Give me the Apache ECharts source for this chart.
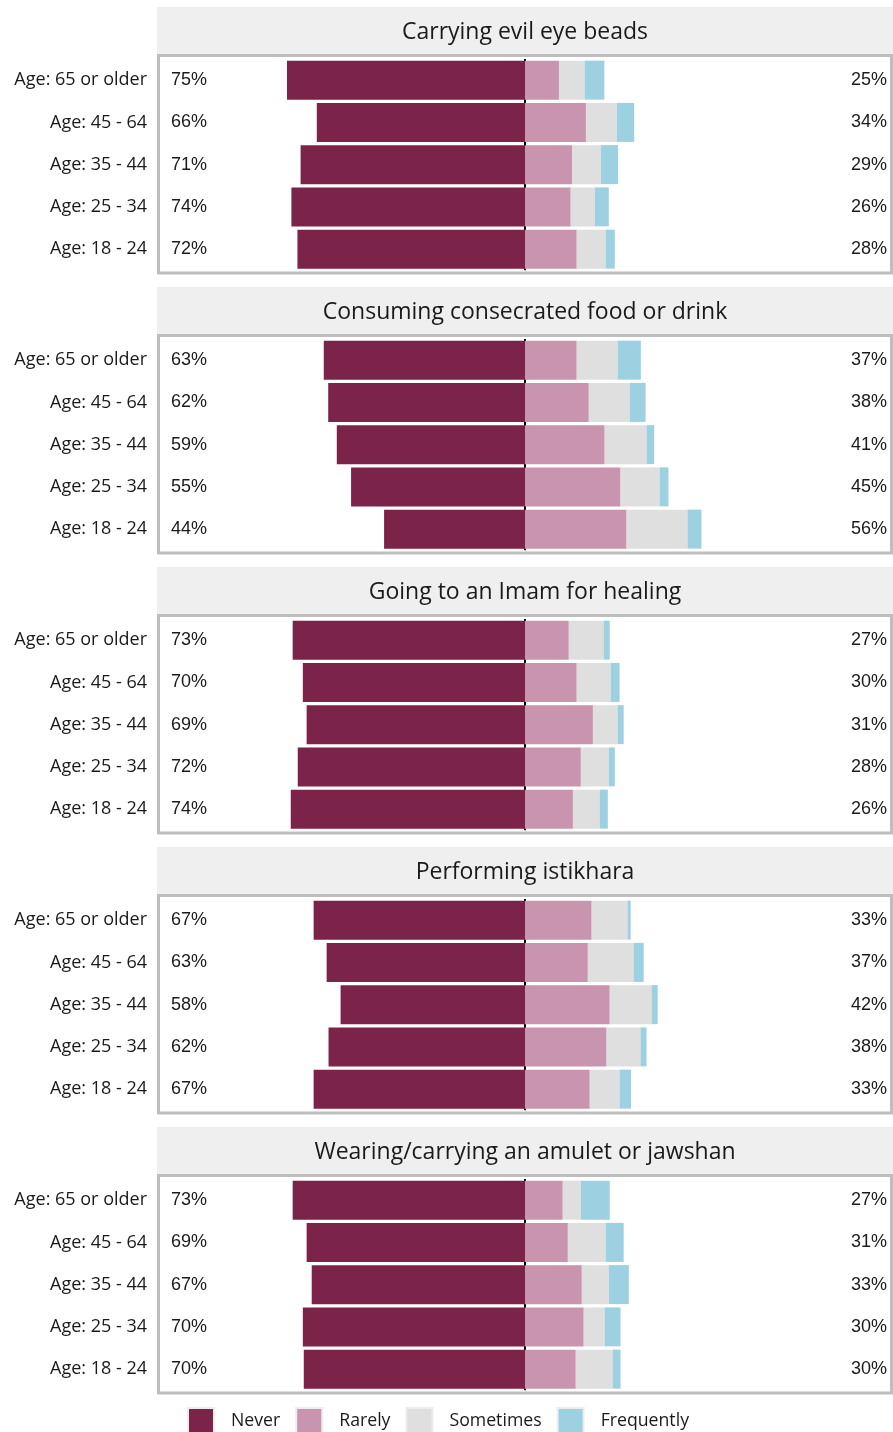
<!DOCTYPE html>
<html>
<head>
<meta charset="utf-8">
<script src="https://cdn.jsdelivr.net/npm/echarts@6/dist/echarts.min.js"></script>
<style>
html,body{margin:0;padding:0;background:#ffffff;}
#chart{width:893px;height:1432px;}
</style>
</head>
<body>
<div id="chart"></div>
<script>
// ---------- DATA ----------
const titles = [
  'Carrying evil eye beads',
  'Consuming consecrated food or drink',
  'Going to an Imam for healing',
  'Performing istikhara',
  'Wearing/carrying an amulet or jawshan'
];
const ageGroups = ['Age: 65 or older', 'Age: 45 - 64', 'Age: 35 - 44', 'Age: 25 - 34', 'Age: 18 - 24'];
const levels = ['Never', 'Rarely', 'Sometimes', 'Frequently'];

// one row per item (panel), one value per age group
const never = [
  [75.0, 65.6, 70.7, 73.6, 71.7],
  [63.4, 62.0, 59.3, 54.8, 44.4],
  [73.2, 70.0, 68.8, 71.6, 73.8],
  [66.6, 62.5, 58.1, 61.9, 66.6],
  [73.2, 68.8, 67.2, 70.0, 69.7]
];
const rarely = [
  [10.7, 19.2, 14.8, 14.4, 16.3],
  [16.3, 20.1, 25.1, 30.1, 32.0],
  [13.8, 16.3, 21.4, 17.6, 15.1],
  [21.0, 19.8, 26.7, 25.7, 20.4],
  [11.9, 13.5, 17.9, 18.5, 16.0]
];
const sometimes = [
  [8.1, 9.7, 9.1, 7.6, 9.1],
  [12.9, 12.9, 13.2, 12.3, 19.2],
  [11.0, 10.7, 7.8, 8.8, 8.4],
  [11.3, 14.4, 13.2, 10.7, 9.4],
  [5.7, 11.9, 8.5, 6.6, 11.6]
];
const frequently = [
  [6.2, 5.5, 5.4, 4.4, 2.9],
  [7.3, 5.0, 2.4, 2.8, 4.4],
  [1.9, 2.8, 1.9, 1.9, 2.6],
  [1.0, 3.2, 1.9, 1.9, 3.6],
  [9.1, 5.7, 6.3, 5.0, 2.5]
];
// printed percentages
const neverLabels = [
  ['75%', '66%', '71%', '74%', '72%'],
  ['63%', '62%', '59%', '55%', '44%'],
  ['73%', '70%', '69%', '72%', '74%'],
  ['67%', '63%', '58%', '62%', '67%'],
  ['73%', '69%', '67%', '70%', '70%']
];
const otherLabels = [
  ['25%', '34%', '29%', '26%', '28%'],
  ['37%', '38%', '41%', '45%', '56%'],
  ['27%', '30%', '31%', '28%', '26%'],
  ['33%', '37%', '42%', '38%', '33%'],
  ['27%', '31%', '33%', '30%', '30%']
];

// ---------- STYLE / LAYOUT ----------
const colors = ['#7b2349', '#c994ae', '#dfdfdf', '#9dd1e1'];
const PANEL_TOP0 = 55, PANEL_STEP = 280;
const GRID_LEFT = 160, GRID_RIGHT = 3;
const TEXT = '#1a1a1a';

const chart = echarts.init(document.getElementById('chart'), null, {renderer: 'canvas'});

const grids = [], xAxes = [], yAxes = [], series = [], graphics = [];
const levelData = [never, rarely, sometimes, frequently];

titles.forEach((t, i) => {
  const top = PANEL_TOP0 + PANEL_STEP * i;
  grids.push({left: GRID_LEFT, right: GRID_RIGHT, top: top + 4, height: 211.25, outerBoundsMode: 'none', containLabel: false});
  xAxes.push({
    gridIndex: i, type: 'value', min: -115, max: 115, interval: 115,
    axisLabel: {show: false}, axisTick: {show: false}, axisLine: {show: false},
    splitLine: {show: true, showMinLine: false, showMaxLine: false, lineStyle: {color: '#000000', width: 2}}
  });
  const yBase = yAxes.length;
  const common = {gridIndex: i, type: 'category', inverse: true, axisLine: {show: false}, axisTick: {show: false}, splitLine: {show: false}};
  yAxes.push(Object.assign({}, common, {
    data: ageGroups, position: 'left',
    axisLabel: {margin: 13, fontFamily: 'Open Sans', fontSize: 18, color: TEXT}
  }));
  yAxes.push(Object.assign({}, common, {
    data: neverLabels[i], position: 'left',
    axisLabel: {inside: true, margin: 11, fontFamily: 'Liberation Sans', fontSize: 18, color: TEXT}
  }));
  yAxes.push(Object.assign({}, common, {
    data: otherLabels[i], position: 'right',
    axisLabel: {inside: true, margin: 3, fontFamily: 'Liberation Sans', fontSize: 18, color: TEXT}
  }));
  levels.forEach((lv, k) => {
    const src = levelData[k][i];
    series.push({
      type: 'bar', name: lv, xAxisIndex: i, yAxisIndex: yBase, stack: 'panel' + i,
      barWidth: 39, silent: true,
      data: k === 0 ? src.map(v => -v) : src.slice(),
      itemStyle: {color: colors[k]}
    });
  });
  // strip
  graphics.push({type: 'rect', z: 1, shape: {x: 157, y: top - 48, width: 736, height: 47}, style: {fill: '#efefef'}});
  graphics.push({type: 'text', z: 2, x: 525, y: top - 23, style: {text: t, align: 'center', verticalAlign: 'middle', font: '23px "Open Sans"', fill: TEXT}});
  // panel border
  graphics.push({type: 'rect', z: 5, shape: {x: 158.5, y: top + 0.5, width: 733, height: 217.5}, style: {fill: null, stroke: '#bebebe', lineWidth: 3}});
});

const option = {
  animation: false,
  backgroundColor: '#ffffff',
  grid: grids,
  xAxis: xAxes,
  yAxis: yAxes,
  series: series,
  graphic: graphics,
  legend: {
    data: levels,
    left: 187, top: 1407, padding: 0,
    icon: 'rect', itemWidth: 26, itemHeight: 26, itemGap: 15,
    itemStyle: {borderColor: '#ececec', borderWidth: 2},
    textStyle: {fontFamily: 'Open Sans', fontSize: 17.7, color: TEXT, padding: [0, 0, 0, 12]},
    selectedMode: false
  }
};
chart.setOption(option);
</script>
</body>
</html>
